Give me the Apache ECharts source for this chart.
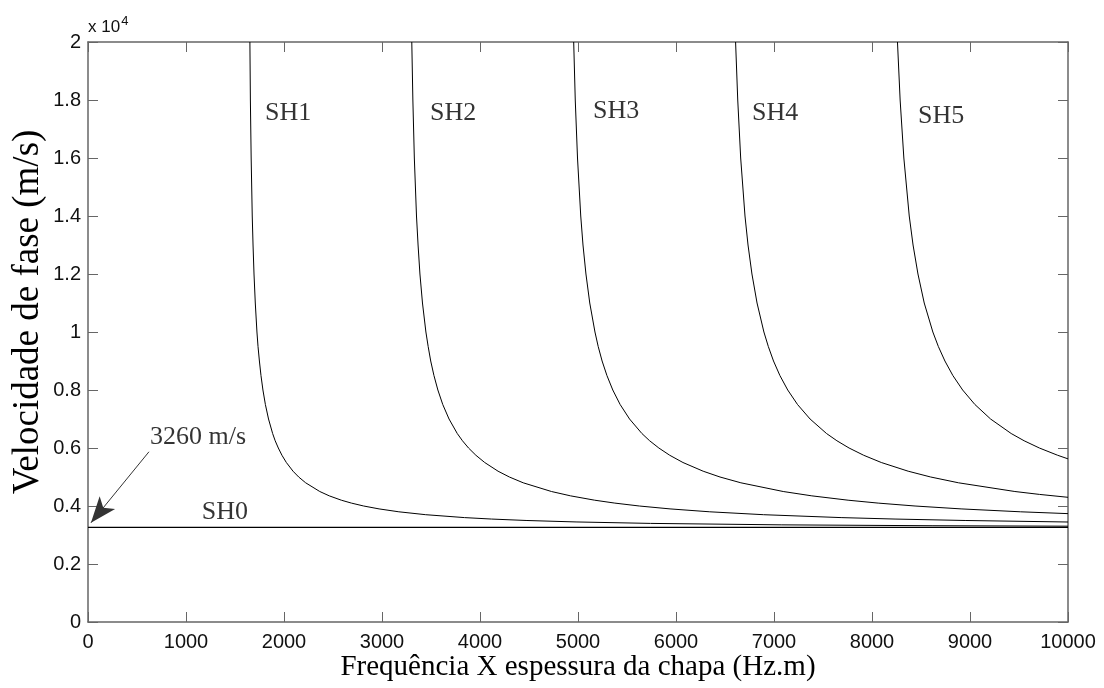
<!DOCTYPE html>
<html>
<head>
<meta charset="utf-8">
<script src="https://cdn.jsdelivr.net/npm/echarts@6/dist/echarts.min.js"></script>
<style>html,body{margin:0;padding:0;background:#fff}#c{width:1104px;height:688px}</style>
</head>
<body>
<div id="c"></div>
<script>
// ---- data ----
const sh0Freq = [0, 10000];
const sh0Vel  = [3260, 3260];
const sh1Freq = [1652,1657,1665,1676,1684,1694,1707,1724,1735,1749,1765,1785,1810,1842,1884,1910,1942,1979,2024,2092,2150,2221,2365,2462,2585,2688,2813,2970,3172,3446,3842,4118,4479,4980,5739,7080,8613,10000];
const sh1Vel  = [20000,18000,16000,14000,13000,12000,11000,10000,9500,9000,8500,8000,7500,7000,6500,6250,6000,5750,5500,5200,5000,4800,4500,4350,4200,4100,4000,3900,3800,3700,3600,3550,3500,3450,3400,3350,3320,3304];
const sh2Freq = [3304,3315,3330,3352,3368,3387,3413,3448,3471,3497,3530,3570,3620,3684,3768,3821,3883,3958,4048,4184,4300,4441,4729,4924,5170,5376,5626,5939,6345,6893,7685,8235,8958,10000];
const sh2Vel  = [20000,18000,16000,14000,13000,12000,11000,10000,9500,9000,8500,8000,7500,7000,6500,6250,6000,5750,5500,5200,5000,4800,4500,4350,4200,4100,4000,3900,3800,3700,3600,3550,3500,3448];
const sh3Freq = [4956,4972,4995,5028,5051,5081,5120,5173,5206,5246,5295,5355,5430,5526,5652,5731,5825,5936,6071,6277,6449,6662,7094,7386,7756,8063,8439,8909,9517,10000];
const sh3Vel  = [20000,18000,16000,14000,13000,12000,11000,10000,9500,9000,8500,8000,7500,7000,6500,6250,6000,5750,5500,5200,5000,4800,4500,4350,4200,4100,4000,3900,3800,3737];
const sh4Freq = [6608,6630,6660,6704,6735,6775,6827,6897,6942,6995,7060,7140,7240,7368,7536,7642,7766,7915,8095,8369,8599,8883,9458,9708,10000];
const sh4Vel  = [20000,18000,16000,14000,13000,12000,11000,10000,9500,9000,8500,8000,7500,7000,6500,6250,6000,5750,5500,5200,5000,4800,4500,4400,4300];
const sh5Freq = [8260,8287,8325,8380,8419,8469,8533,8621,8677,8744,8825,8925,9050,9210,9420,9552,9708,9894,10000];
const sh5Vel  = [20000,18000,16000,14000,13000,12000,11000,10000,9500,9000,8500,8000,7500,7000,6500,6250,6000,5750,5626];
const labelText = ['SH1','SH2','SH3','SH4','SH5','SH0','3260 m/s'];
const labelFreq = [1806,3490,5153,6776,8469,1160,633];
const labelVel  = [17530,17530,17600,17530,17430,3800,6390];
const arrowFrom = [622, 5870];
const arrowTo   = [30, 3420];

const zip = (a,b) => a.map((v,i)=>[v,b[i]]);
const chart = echarts.init(document.getElementById('c'), null, {renderer:'canvas'});
const axisCol = '#666';
const sans = '"Liberation Sans", Arial, sans-serif';
const tickFont = {fontFamily:sans, fontSize:20, color:'#111'};
const serif = '"Liberation Serif", "Times New Roman", serif';
const lineStyle = {color:'#000', width:1};
function curve(name, f, v){
  return {name, type:'line', data: zip(f,v), showSymbol:false, symbol:'none',
    smooth:false, lineStyle, clip:true, silent:true, animation:false};
}
const option = {
  animation:false,
  grid:{left:88, right:36, top:42, bottom:66, containLabel:false, outerBoundsMode:'none'},
  xAxis:[{
    type:'value', min:0, max:10000, interval:1000, position:'bottom',
    name:'Frequência X espessura da chapa (Hz.m)', nameLocation:'middle', nameGap:31, nameMoveOverlap:false,
    nameTextStyle:{fontFamily:serif, fontSize:29, color:'#000'},
    axisLine:{show:true, onZero:false, lineStyle:{color:axisCol, width:1.5}},
    axisTick:{show:true, inside:true, length:10, lineStyle:{color:axisCol}},
    axisLabel:Object.assign({margin:10, formatter:v=>String(v)}, tickFont),
    splitLine:{show:false}
  },{
    type:'value', min:0, max:10000, interval:1000, position:'top',
    axisLine:{show:true, onZero:false, lineStyle:{color:axisCol, width:1.5}},
    axisTick:{show:true, inside:true, length:10, lineStyle:{color:axisCol}},
    axisLabel:{show:false}, splitLine:{show:false}
  }],
  yAxis:[{
    type:'value', min:0, max:20000, interval:2000, position:'left',
    name:'x 10{s|4}', nameLocation:'end', nameGap:2,
    nameTextStyle:{fontFamily:sans, fontSize:17, color:'#111', align:'left', verticalAlign:'bottom',
      rich:{s:{fontSize:13, verticalAlign:'top', padding:[0,0,12,1], fontFamily:sans, color:'#111'}}},
    axisLine:{show:true, onZero:false, lineStyle:{color:axisCol, width:1.5}},
    axisTick:{show:true, inside:true, length:10, lineStyle:{color:axisCol}},
    axisLabel:Object.assign({margin:7, formatter:v=>String(+(v/10000).toFixed(1))}, tickFont),
    splitLine:{show:false}
  },{
    type:'value', min:0, max:20000, interval:2000, position:'right',
    axisLine:{show:true, onZero:false, lineStyle:{color:axisCol, width:1.5}},
    axisTick:{show:true, inside:true, length:10, lineStyle:{color:axisCol}},
    axisLabel:{show:false}, splitLine:{show:false}
  }],
  graphic:[{
    type:'text', rotation:Math.PI/2,
    style:{text:'Velocidade de fase (m/s)', font:'37px "Liberation Serif", "Times New Roman", serif', fill:'#000',
      align:'center', verticalAlign:'middle'},
    x:28, y:312
  }],
  series:[
    Object.assign(curve('SH0', sh0Freq, sh0Vel), {lineStyle:{color:'#000', width:1.2},
      markLine:{silent:true, symbol:['none','arrow'], symbolSize:[15,26], animation:false,
        label:{show:false}, lineStyle:{color:'#333', width:1, type:'solid'},
        data:[[{coord:arrowFrom},{coord:arrowTo}]]}}),
    curve('SH1', sh1Freq, sh1Vel),
    curve('SH2', sh2Freq, sh2Vel),
    curve('SH3', sh3Freq, sh3Vel),
    curve('SH4', sh4Freq, sh4Vel),
    curve('SH5', sh5Freq, sh5Vel),
    {type:'scatter', name:'labels', symbolSize:0, silent:true,
     data: labelText.map((t,i)=>[labelFreq[i], labelVel[i], t]),
     label:{show:true, position:'right', distance:0, formatter:p=>p.data[2],
       fontFamily:serif, fontSize:26, color:'#000'}}
  ]
};
chart.setOption(option);
</script>
</body>
</html>
